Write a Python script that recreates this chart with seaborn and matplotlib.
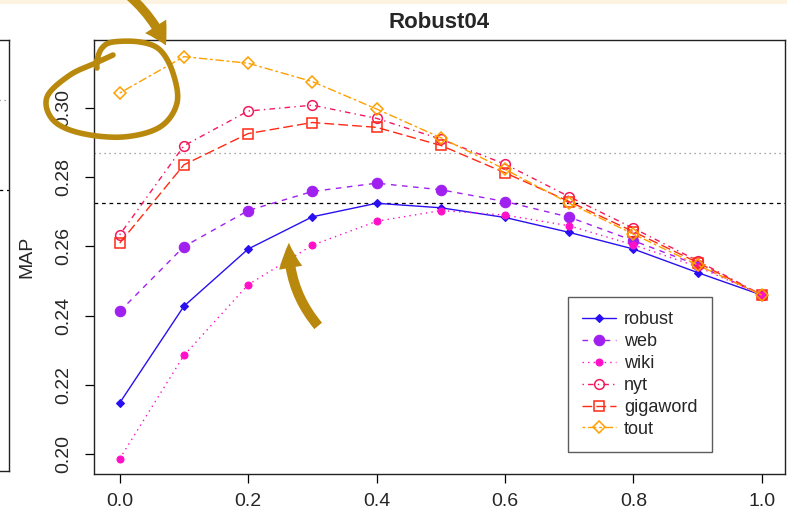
import numpy as np
import pandas as pd
import matplotlib
matplotlib.use("Agg")
import matplotlib.pyplot as plt
from matplotlib.patches import FancyArrowPatch, Rectangle
import seaborn as sns

# Interpolation weight between query model and expansion source
lambdas = [0.0, 0.1, 0.2, 0.3, 0.4, 0.5, 0.6, 0.7, 0.8, 0.9, 1.0]

robust = [0.2148, 0.2427, 0.2592, 0.2685, 0.2724, 0.2711, 0.2683, 0.2640, 0.2592, 0.2524, 0.2459]
web = [0.2412, 0.2599, 0.2703, 0.2758, 0.2782, 0.2763, 0.2729, 0.2684, 0.2616, 0.2546, 0.2459]
wiki = [0.1987, 0.2285, 0.2489, 0.2603, 0.2672, 0.2703, 0.2690, 0.2659, 0.2604, 0.2541, 0.2459]
nyt = [0.2633, 0.2890, 0.2990, 0.3007, 0.2969, 0.2909, 0.2837, 0.2743, 0.2652, 0.2558, 0.2459]
gigaword = [0.2609, 0.2835, 0.2925, 0.2957, 0.2943, 0.2891, 0.2812, 0.2729, 0.2642, 0.2553, 0.2459]
tout = [0.3042, 0.3147, 0.3128, 0.3075, 0.2996, 0.2913, 0.2822, 0.2724, 0.2635, 0.2546, 0.2459]

series_names = ["robust", "web", "wiki", "nyt", "gigaword", "tout"]
series_values = [robust, web, wiki, nyt, gigaword, tout]

# Reference levels drawn across the panel
baseline_dashed = 0.2726
baseline_dotted = 0.2870
# Reference levels of the neighbouring panel (only its edge is visible)
neighbour_dotted = 0.3022
neighbour_dashed = 0.2760

x_ticks = [0.0, 0.2, 0.4, 0.6, 0.8, 1.0]
x_tick_labels = ["0.0", "0.2", "0.4", "0.6", "0.8", "1.0"]
y_ticks = [0.20, 0.22, 0.24, 0.26, 0.28, 0.30]
y_tick_labels = ["0.20", "0.22", "0.24", "0.26", "0.28", "0.30"]

df = pd.DataFrame({
    "lambda": lambdas * len(series_names),
    "MAP": [v for vals in series_values for v in vals],
    "source": [n for n in series_names for _ in lambdas],
})

styles = {
    "robust":   dict(color="#2a10f0", ls="-",               marker="D", ms=4.0, mfc="#2a10f0", mew=0.8),
    "web":      dict(color="#a020f0", ls=(0, (4, 4)),       marker="o", ms=7.5, mfc="#a020f0", mew=0.8),
    "wiki":     dict(color="#ff10c8", ls=(0, (1, 3)),       marker="o", ms=5.0, mfc="#ff10c8", mew=0.8),
    "nyt":      dict(color="#f4195e", ls=(0, (1, 3, 4, 3)), marker="o", ms=7.0, mfc="none",    mew=1.1),
    "gigaword": dict(color="#ff2a14", ls=(0, (7, 3)),       marker="s", ms=6.5, mfc="none",    mew=1.1),
    "tout":     dict(color="#ffa000", ls=(0, (2, 2, 6, 2)), marker="D", ms=6.0, mfc="none",    mew=1.1),
}

sns.set_theme(style="white")
plt.rcParams["font.family"] = ["Liberation Sans", "DejaVu Sans"]

W, H = 787, 512
fig = plt.figure(figsize=(W / 100, H / 100), dpi=100)
fig.patch.set_facecolor("white")

def px_box(x0, y0, x1, y1):
    return [x0 / W, 1 - y1 / H, (x1 - x0) / W, (y1 - y0) / H]

ax = fig.add_axes(px_box(94, 40, 785, 474))
ax.set_facecolor("white")

ax.axhline(baseline_dotted, color="#8a8a8a", lw=0.9, ls=(0, (1, 3)), zorder=1)
ax.axhline(baseline_dashed, color="black", lw=0.9, ls=(0, (3, 3)), zorder=1)

for name in series_names:
    st = styles[name]
    sub = df[df["source"] == name]
    sns.lineplot(data=sub, x="lambda", y="MAP", ax=ax, color=st["color"],
                 linestyle=st["ls"], linewidth=1.0, marker=st["marker"],
                 markersize=st["ms"], markerfacecolor=st["mfc"],
                 markeredgecolor=st["color"], markeredgewidth=st["mew"],
                 label=name, legend=False, zorder=3)

ax.set_xlim(-0.04, 1.036)
ax.set_ylim(0.1943, 0.3195)
ax.set_xticks(x_ticks)
ax.set_xticklabels(x_tick_labels, fontsize=14)
ax.set_yticks(y_ticks)
ax.set_yticklabels(y_tick_labels, fontsize=14, rotation=90, va="center")
ax.tick_params(axis="both", direction="out", length=6.5, width=0.9, color="black",
               left=True, bottom=True)
ax.tick_params(axis="y", pad=9)
ax.tick_params(axis="x", pad=7)
for s in ax.spines.values():
    s.set_color("#222222")
    s.set_linewidth(1.0)
ax.set_xlabel("")
ax.set_ylabel("")
ax.set_title("Robust04", fontsize=16, fontweight="bold", pad=9)
fig.text(27 / W, 1 - 257 / H, "MAP", rotation=90, fontsize=14, ha="center", va="center")

handles, labels = ax.get_legend_handles_labels()
leg = ax.legend(handles, labels, loc="upper left", bbox_to_anchor=(0.686, 0.408),
                fontsize=13, frameon=True, fancybox=False, edgecolor="#333333",
                handlelength=1.85, handletextpad=0.45, labelspacing=0.27,
                borderpad=0.8, borderaxespad=0.0)
leg.get_frame().set_linewidth(1.0)

# Edge of the neighbouring panel on the left
axl = fig.add_axes(px_box(-60, 40, 9, 471))
axl.set_facecolor("white")
axl.axhline(neighbour_dotted, color="#8a8a8a", lw=0.9, ls=(0, (1, 3)))
axl.axhline(neighbour_dashed, color="black", lw=0.9, ls=(0, (3, 3)))
axl.set_ylim(0.1943, 0.3195)
axl.set_xticks([])
axl.set_yticks([])
for s in axl.spines.values():
    s.set_color("#222222")
    s.set_linewidth(1.0)

# Hand-drawn highlight layer
ov = fig.add_axes([0, 0, 1, 1], zorder=10)
ov.set_xlim(0, W)
ov.set_ylim(H, 0)
ov.axis("off")
ov.patch.set_alpha(0)

ov.add_patch(Rectangle((0, 0), W, 3.5, color="#fcf4e1", lw=0))

gold = "#b8890c"

def catmull_rom(pts, n=20):
    pts = np.asarray(pts, float)
    p = np.vstack([pts[0], pts, pts[-1]])
    out = []
    for i in range(1, len(p) - 2):
        p0, p1, p2, p3 = p[i - 1], p[i], p[i + 1], p[i + 2]
        t = np.linspace(0, 1, n, endpoint=False)[:, None]
        out.append(0.5 * ((2 * p1) + (-p0 + p2) * t + (2 * p0 - 5 * p1 + 4 * p2 - p3) * t ** 2
                          + (-p0 + 3 * p1 - 3 * p2 + p3) * t ** 3))
    out.append(pts[-1][None, :])
    return np.vstack(out)

loop_pts = [(113, 55), (98, 62), (70, 75), (47, 97), (53, 120), (80, 133), (123, 137),
            (160, 127), (177, 103), (173, 73), (160, 50), (140, 42), (113, 42),
            (102, 48), (97, 60), (97, 68)]
loop = catmull_rom(loop_pts)
ov.plot(loop[:, 0], loop[:, 1], color=gold, lw=4.0, solid_capstyle="round",
        solid_joinstyle="round")

arrow1 = FancyArrowPatch((127, -6), (167, 48), connectionstyle="arc3,rad=-0.12",
                         arrowstyle="simple,head_length=1.3,head_width=1.5,tail_width=0.55",
                         mutation_scale=12, color=gold, lw=0)
ov.add_patch(arrow1)
arrow2 = FancyArrowPatch((320, 328), (289, 240), connectionstyle="arc3,rad=-0.2",
                         arrowstyle="simple,head_length=1.5,head_width=1.4,tail_width=0.6",
                         mutation_scale=12, color=gold, lw=0)
ov.add_patch(arrow2)

fig.savefig("out.png", dpi=100)
